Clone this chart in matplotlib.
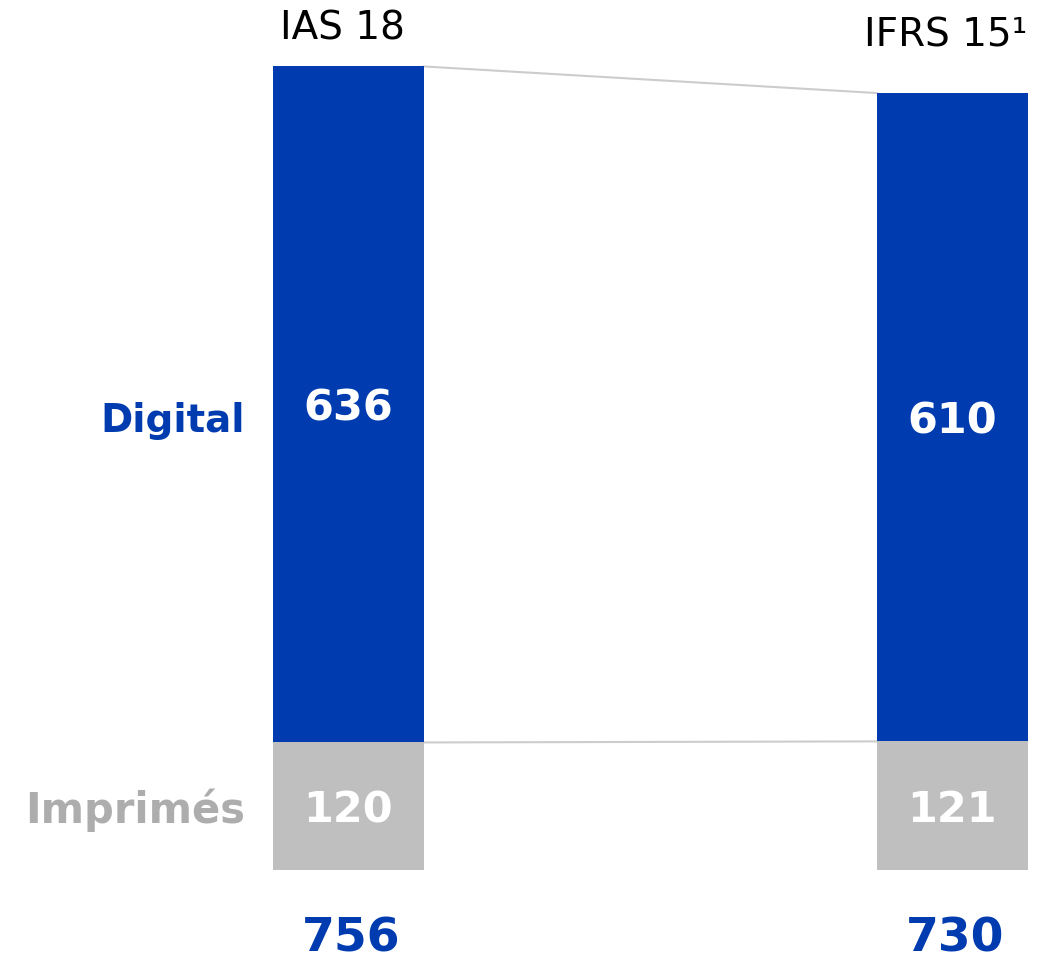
import matplotlib
matplotlib.use("Agg")
import matplotlib.pyplot as plt

# ---- data ----
standards = ["IAS 18", "IFRS 15"]
footnote = ["", "¹"]
digital = [636, 610]
imprimes = [120, 121]
totals = [756, 730]
segment_labels = ["Digital", "Imprimés"]

BLUE = "#003CB0"
GRAY = "#BFBFBF"
GRAY_TXT = "#ADADAD"
LINE = "#CCCCCC"

W, H = 1053, 961
fig = plt.figure(figsize=(W / 100, H / 100), dpi=100)
ax = fig.add_axes([0, 0, 1, 1])
ax.set_axis_off()

# pixel mapping: bar centers at 348.5 and 952 px, baseline at 870 px
px_per_x = 603.5
px_per_y = 676 / 636
ax.set_xlim(-348.5 / px_per_x, (W - 348.5) / px_per_x)
ax.set_ylim(-(H - 870) / px_per_y, 870 / px_per_y)

x = [0, 1]
bw = 151 / px_per_x
ax.bar(x, imprimes, width=bw, color=GRAY, linewidth=0)
ax.bar(x, digital, width=bw, bottom=imprimes, color=BLUE, linewidth=0)

# connector lines
tops = [i + d for i, d in zip(imprimes, digital)]
ax.plot([x[0] + bw / 2, x[1] - bw / 2], tops, color=LINE, lw=1.5, zorder=0)
ax.plot([x[0] + bw / 2, x[1] - bw / 2], imprimes, color=LINE, lw=1.5, zorder=0)

fam = ["DejaVu Sans"]
# values inside bars
for xi, i, d in zip(x, imprimes, digital):
    ax.text(xi, i + d / 2, f"{d}", color="white", fontsize=31, fontweight="bold",
            ha="center", va="center_baseline", family=fam)
    ax.text(xi, i / 2, f"{i}", color="white", fontsize=31, fontweight="bold",
            ha="center", va="center_baseline", family=fam)

# totals
for xi, t in zip(x, totals):
    ax.text(xi + 0.005, -77, f"{t}", color=BLUE, fontsize=34, fontweight="bold",
            ha="center", va="baseline", family=fam)

# headers
ax.text(x[0] - 0.01, 781.5, standards[0] + footnote[0], color="black", fontsize=28,
        ha="center", va="baseline", family=fam)
ax.text(x[1] + bw / 2, 774.5, standards[1] + footnote[1], color="black", fontsize=28,
        ha="right", va="baseline", family=fam)

# segment labels
lx = x[0] - bw / 2 - 28 / px_per_x
ax.text(lx, imprimes[1] + digital[1] / 2, segment_labels[0], color=BLUE, fontsize=28,
        fontweight="bold", ha="right", va="center_baseline", family=fam)
ax.text(lx, imprimes[0] / 2, segment_labels[1], color=GRAY_TXT, fontsize=30,
        fontweight="bold", ha="right", va="center_baseline", family=fam)

fig.savefig("out.png", dpi=100, facecolor="white")
